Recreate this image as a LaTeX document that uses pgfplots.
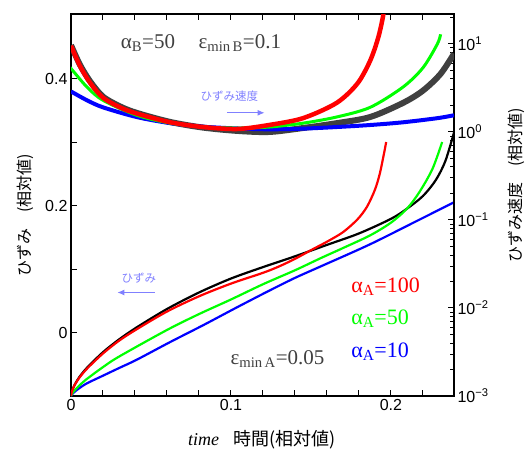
\documentclass[border=0pt]{standalone}
\usepackage{pgfplots}
\pgfplotsset{compat=1.18}
\usetikzlibrary{arrows.meta}
\usepackage{fontspec}
\setmainfont{Liberation Serif}
\newfontfamily\arial{Liberation Sans}
\newfontfamily\jp{Noto Sans CJK JP}
\definecolor{dgray}{RGB}{64,64,64}
\definecolor{lblue}{RGB}{128,128,255}
\definecolor{grn}{RGB}{0,255,0}

\begin{document}
\begin{tikzpicture}
\useasboundingbox (-71pt,-54pt) rectangle (456pt,396pt);
% strain (left, linear)
\begin{axis}[
    scale only axis, width=383pt, height=382pt,
    xmin=0, xmax=0.2394, ymin=-0.1, ymax=0.5016,
    xtick={0,0.1,0.2}, xticklabels={0,0.1,0.2},
    minor xtick={0.02,0.04,0.06,0.08,0.12,0.14,0.16,0.18,0.22},
    ytick={0,0.2,0.4}, yticklabels={0,0.2,0.4},
    minor ytick={0.1,0.3},
    xtick pos=both, ytick pos=left,
    tick align=inside,
    major tick length=6pt, minor tick length=6pt,
    tick style={black, line width=1pt},
    axis line style={line width=1.2pt},
    ticklabel style={font=\arial\fontsize{16}{16}\selectfont},
]
\addplot[black, line width=2.2pt, smooth] coordinates {
(0,-0.1) (0.0005,-0.0933) (0.002,-0.0838) (0.005,-0.071) (0.01,-0.0555)
(0.02,-0.031) (0.03,-0.011) (0.041,0.008) (0.06,0.037) (0.08,0.063)
(0.1,0.085) (0.12,0.103) (0.14,0.120) (0.16,0.138) (0.18,0.156)
(0.2,0.179) (0.21,0.195) (0.22,0.215) (0.228,0.24) (0.234,0.27) (0.2394,0.315)
};
\addplot[blue, line width=2.2pt, smooth] coordinates {
(0,-0.1) (0.0005,-0.098) (0.002,-0.094) (0.005,-0.088) (0.01,-0.08)
(0.02,-0.068) (0.03,-0.056) (0.041,-0.043) (0.062,-0.015) (0.083,0.012)
(0.104,0.040) (0.124,0.066) (0.14,0.086) (0.156,0.104) (0.187,0.139)
(0.218,0.178) (0.2394,0.205)
};
\addplot[grn, line width=2.2pt, smooth] coordinates {
(0,-0.1) (0.0005,-0.097) (0.002,-0.092) (0.005,-0.084) (0.01,-0.073)
(0.02,-0.0545) (0.03,-0.038) (0.06,0.004) (0.08,0.029) (0.1,0.052)
(0.12,0.076) (0.14,0.098) (0.156,0.117) (0.17,0.133) (0.187,0.153)
(0.2,0.173) (0.21,0.195) (0.218,0.222) (0.226,0.258) (0.232,0.30)
};
\addplot[red, line width=2.2pt, smooth] coordinates {
(0,-0.1) (0.0005,-0.0935) (0.002,-0.084) (0.005,-0.072) (0.01,-0.057)
(0.02,-0.033) (0.03,-0.013) (0.041,0.005) (0.06,0.033) (0.08,0.057)
(0.1,0.077) (0.12,0.094) (0.13,0.104) (0.14,0.116) (0.151,0.131)
(0.16,0.143) (0.17,0.158) (0.179,0.178) (0.185,0.198) (0.19,0.225)
(0.193,0.25) (0.1955,0.28) (0.197,0.30)
};
\node[anchor=base west, dgray, font=\fontsize{21}{21}\selectfont]
  at (axis cs:0.029,0.447) {α\textsubscript{B}=50};
\node[anchor=base west, dgray, font=\fontsize{21}{21}\selectfont]
  at (axis cs:0.0775,0.447) {ε\textsubscript{min\,B}=0.1};
\node[anchor=base west, red, font=\fontsize{22}{22}\selectfont]
  at (axis cs:0.173,0.063) {α\textsubscript{A}=100};
\node[anchor=base west, grn, font=\fontsize{22}{22}\selectfont]
  at (axis cs:0.173,0.0126) {α\textsubscript{A}=50};
\node[anchor=base west, blue, font=\fontsize{22}{22}\selectfont]
  at (axis cs:0.173,-0.039) {α\textsubscript{A}=10};
\node[anchor=base west, dgray, font=\fontsize{21}{21}\selectfont]
  at (axis cs:0.0975,-0.050) {ε\textsubscript{min\,A}=0.05};
\node[lblue, font=\jp\fontsize{11.5}{12}\selectfont] at (axis cs:0.099,0.372) {ひずみ速度};
\draw[lblue, line width=1pt, -{Latex[length=7pt,width=6pt]}]
  (axis cs:0.0975,0.346) -- (axis cs:0.121,0.346);
\node[lblue, font=\jp\fontsize{11.5}{12}\selectfont] at (axis cs:0.0425,0.085) {ひずみ};
\draw[lblue, line width=1pt, -{Latex[length=7pt,width=6pt]}]
  (axis cs:0.0525,0.063) -- (axis cs:0.029,0.063);
\end{axis}
% strain rate (right, log)
\begin{axis}[
    scale only axis, width=383pt, height=382pt,
    xmin=0, xmax=0.2394, ymode=log, ymin=1e-3, ymax=21.9,
    axis x line=none, axis y line*=right,
    tick align=inside,
    ytick={1e-3,1e-2,1e-1,1,10},
    yticklabels={10\textsuperscript{−3},10\textsuperscript{−2},10\textsuperscript{−1},10\textsuperscript{0},10\textsuperscript{1}},
    minor ytick={2e-3,3e-3,4e-3,5e-3,6e-3,7e-3,8e-3,9e-3,
                 2e-2,3e-2,4e-2,5e-2,6e-2,7e-2,8e-2,9e-2,
                 0.2,0.3,0.4,0.5,0.6,0.7,0.8,0.9,
                 2,3,4,5,6,7,8,9,20},
    major tick length=6pt, minor tick length=4pt,
    tick style={black, line width=1pt},
    axis line style={line width=1.2pt},
    ticklabel style={font=\arial\fontsize{16}{16}\selectfont},
]
\addplot[dgray, line width=6pt, smooth] coordinates {
(0,9.7) (0.0056,5.8) (0.012,3.75) (0.02,2.52) (0.031,1.94) (0.041,1.65)
(0.062,1.30) (0.0825,1.122) (0.104,1.028) (0.124,1.0) (0.145,1.109)
(0.166,1.259) (0.187,1.479) (0.2075,2.138) (0.22,2.951) (0.231,4.571)
(0.2394,7.76)
};
\addplot[blue, line width=4pt, smooth] coordinates {
(0,2.884) (0.001,2.818) (0.01,2.291) (0.02,1.905) (0.041,1.479) (0.062,1.259)
(0.0825,1.148) (0.104,1.096) (0.124,1.072) (0.145,1.091) (0.166,1.138)
(0.187,1.2) (0.2075,1.288) (0.229,1.435) (0.2394,1.549)
};
\addplot[grn, line width=3pt, smooth] coordinates {
(0,5.25) (0.001,5.01) (0.01,3.236) (0.02,2.291) (0.041,1.549) (0.062,1.259)
(0.0825,1.138) (0.104,1.109) (0.124,1.138) (0.145,1.259) (0.166,1.479)
(0.187,1.905) (0.2075,3.236) (0.22,5.37) (0.229,10) (0.231,12.88)
};
\addplot[red, line width=4.5pt, smooth] coordinates {
(0,9.55) (0.0056,5.62) (0.0119,3.63) (0.02,2.45) (0.0306,1.905) (0.041,1.622)
(0.062,1.288) (0.0825,1.138) (0.104,1.081) (0.124,1.202) (0.145,1.435)
(0.166,2.138) (0.179,3.548) (0.187,6.457) (0.192,11.75) (0.195,20.42)
(0.1958,28.2)
};
\end{axis}
\node[rotate=90, font=\jp\fontsize{16}{16}\selectfont] at (-46pt,181pt) {ひずみ\hspace{1em}(相対値)};
\node[rotate=90, font=\jp\fontsize{16}{16}\selectfont] at (445pt,211pt) {ひずみ速度\hspace{1em}(相対値)};
\node[font=\fontsize{18}{18}\selectfont] at (191pt,-44pt) {\textit{time}\hspace{0.8em}{\jp 時間(相対値)}};
\end{tikzpicture}
\end{document}
